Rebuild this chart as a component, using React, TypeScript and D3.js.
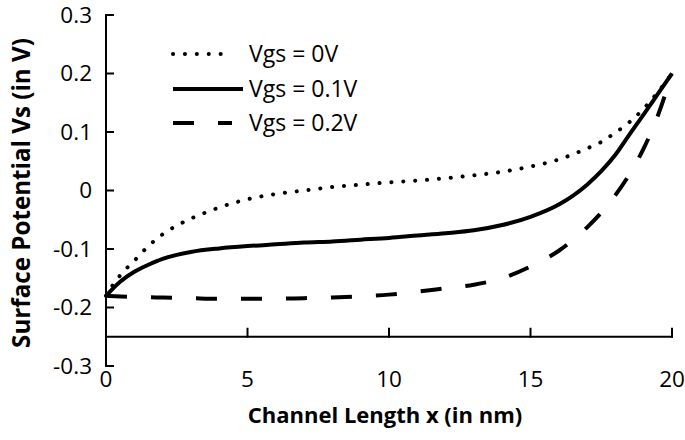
import React, { useEffect, useRef } from "react";
import * as d3 from "d3";

const xTicks = [0, 5, 10, 15, 20];
const yTicks = [0.3, 0.2, 0.1, 0, -0.1, -0.2, -0.3];
const yTickLabels = ["0.3", "0.2", "0.1", "0", "-0.1", "-0.2", "-0.3"];

const xVgs0 = [0, 0.25, 0.5, 1, 1.5, 2, 2.5, 3, 3.5, 4, 5, 6, 7, 8, 9, 10, 11, 12, 13, 14, 15, 16, 17, 17.5, 18, 18.5, 19, 19.5, 20];
const vVgs0 = [-0.18, -0.161, -0.145, -0.12, -0.095, -0.075, -0.06, -0.048, -0.038, -0.029, -0.015, -0.006, 0, 0.006, 0.01, 0.014, 0.017, 0.021, 0.026, 0.032, 0.041, 0.053, 0.072, 0.083, 0.099, 0.117, 0.14, 0.168, 0.2];

const xVgs01 = [0, 0.5, 1, 1.5, 2, 2.5, 3, 4, 5, 6, 7, 8, 9, 10, 11, 12, 13, 14, 15, 16, 17, 17.5, 18, 18.5, 19, 19.5, 20];
const vVgs01 = [-0.18, -0.156, -0.139, -0.127, -0.117, -0.11, -0.105, -0.099, -0.095, -0.092, -0.089, -0.087, -0.084, -0.081, -0.077, -0.073, -0.068, -0.059, -0.045, -0.024, 0.01, 0.033, 0.061, 0.096, 0.13, 0.165, 0.2];

const xVgs02 = [0, 1, 2, 3, 4, 5, 6, 7, 8, 9, 10, 11, 12, 13, 14, 15, 16, 17, 17.5, 18, 18.5, 19, 19.5, 20];
const vVgs02 = [-0.18, -0.182, -0.183, -0.184, -0.185, -0.185, -0.185, -0.184, -0.183, -0.181, -0.178, -0.173, -0.167, -0.161, -0.15, -0.13, -0.103, -0.063, -0.038, -0.008, 0.028, 0.072, 0.128, 0.2];

const seriesNames = ["Vgs = 0V", "Vgs = 0.1V", "Vgs = 0.2V"];

export default function App() {
  const ref = useRef<SVGSVGElement>(null);
  useEffect(() => {
    const svg = d3.select(ref.current);
    svg.selectAll("*").remove();
    const W = 685, H = 440;
    const x = d3.scaleLinear().domain([0, 20]).range([106, 672]);
    const y = d3.scaleLinear().domain([-0.3, 0.3]).range([366, 15]);
    const font = "'Open Sans', sans-serif";

    svg.append("rect").attr("width", W).attr("height", H).attr("fill", "#fff");

    const series = [
      { xs: xVgs0, vs: vVgs0, dash: "0.1 11.8", cap: "round", w: 4 },
      { xs: xVgs01, vs: vVgs01, dash: null, cap: "butt", w: 4 },
      { xs: xVgs02, vs: vVgs02, dash: "21 24", cap: "butt", w: 4 },
    ];

    const line = d3
      .line<[number, number]>()
      .x((d) => x(d[0]))
      .y((d) => y(d[1]))
      .curve(d3.curveMonotoneX);

    series.forEach((s) => {
      const pts = s.xs.map((xv, i) => [xv, s.vs[i]] as [number, number]);
      const p = svg
        .append("path")
        .attr("d", line(pts) as string)
        .attr("fill", "none")
        .attr("stroke", "#000")
        .attr("stroke-width", s.w)
        .attr("stroke-linecap", s.cap)
        .attr("stroke-linejoin", "round");
      if (s.dash) p.attr("stroke-dasharray", s.dash);
    });

    // axes
    const ax = svg.append("g").attr("stroke", "#000").attr("stroke-width", 2).attr("fill", "none");
    ax.append("line").attr("x1", x(0)).attr("x2", x(0)).attr("y1", y(0.3)).attr("y2", y(-0.3));
    yTicks.forEach((t) => {
      ax.append("line").attr("x1", x(0) - 1).attr("x2", x(0) + 8).attr("y1", y(t)).attr("y2", y(t));
    });
    const xAxisY = y(-0.25);
    ax.append("line").attr("x1", x(0)).attr("x2", x(20) + 1).attr("y1", xAxisY).attr("y2", xAxisY);
    xTicks.forEach((t) => {
      ax.append("line").attr("x1", x(t)).attr("x2", x(t)).attr("y1", xAxisY + 1).attr("y2", xAxisY - 9);
    });

    // tick labels
    yTicks.forEach((t, i) => {
      svg
        .append("text")
        .attr("x", 92)
        .attr("y", y(t))
        .attr("dy", "0.35em")
        .attr("text-anchor", "end")
        .attr("font-family", font)
        .attr("font-size", 22.5)
        .attr("fill", "#000")
        .text(yTickLabels[i]);
    });
    xTicks.forEach((t) => {
      svg
        .append("text")
        .attr("x", x(t))
        .attr("y", 387)
        .attr("text-anchor", "middle")
        .attr("font-family", font)
        .attr("font-size", 22.5)
        .attr("fill", "#000")
        .text(String(t));
    });

    // titles
    svg
      .append("text")
      .attr("x", 385)
      .attr("y", 423)
      .attr("text-anchor", "middle")
      .attr("font-family", font)
      .attr("font-weight", "bold")
      .attr("font-size", 22)
      .attr("fill", "#000")
      .text("Channel Length x (in nm)");
    svg
      .append("text")
      .attr("transform", `translate(30,193) rotate(-90)`)
      .attr("text-anchor", "middle")
      .attr("font-family", font)
      .attr("font-weight", "bold")
      .attr("font-size", 24.2)
      .attr("fill", "#000")
      .text("Surface Potential Vs (in V)");

    // legend
    const legY = [54, 89, 123];
    const legX2 = [232, 243, 232];
    series.forEach((s, i) => {
      const l = svg
        .append("line")
        .attr("x1", 173)
        .attr("x2", legX2[i])
        .attr("y1", legY[i])
        .attr("y2", legY[i])
        .attr("stroke", "#000")
        .attr("stroke-width", s.w)
        .attr("stroke-linecap", s.cap);
      if (s.dash) l.attr("stroke-dasharray", s.dash);
      svg
        .append("text")
        .attr("x", 249)
        .attr("y", legY[i])
        .attr("dy", "0.35em")
        .attr("font-family", font)
        .attr("font-size", 23)
        .attr("fill", "#000")
        .text(seriesNames[i]);
    });
  }, []);
  return (
    <svg
      ref={ref}
      width={685}
      height={440}
      style={{ position: "absolute", left: 0, top: 0, display: "block" }}
    />
  );
}
